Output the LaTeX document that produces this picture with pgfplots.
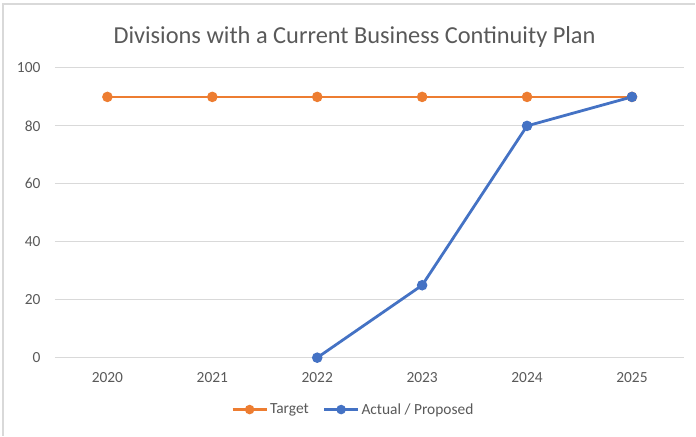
\documentclass[border=0pt]{standalone}
\usepackage{fontspec}
\setmainfont{Carlito}
\usepackage{pgfplots}
\pgfplotsset{compat=1.18}
\definecolor{xlorange}{HTML}{ED7D31}
\definecolor{xlblue}{HTML}{4472C4}
\definecolor{xlgrid}{HTML}{D9D9D9}
\definecolor{xltext}{HTML}{595959}

\begin{document}
\begin{tikzpicture}[x=1bp,y=1bp]
  \path (0,0) rectangle (696,436);
  \draw[xlgrid, line width=1.2bp] (3,0) -- (3,432) -- (696,432);
  \begin{axis}[
    at={(55bp,78bp)}, anchor=south west,
    scale only axis, width=630bp, height=290bp,
    xmin=-0.5, xmax=5.5, ymin=0, ymax=100,
    xtick={0,1,2,3,4,5},
    xticklabels={2020,2021,2022,2023,2024,2025},
    ytick={0,20,40,60,80,100},
    ymajorgrids, grid style={xlgrid, line width=1bp},
    axis line style={draw=none},
    major tick length=0pt,
    tick label style={font=\fontsize{15.5}{18}\selectfont, text=xltext},
    xticklabel style={yshift=-11bp},
    yticklabel style={xshift=-11bp},
    /pgf/number format/assume math mode=true,
    title={Divisions with a Current Business Continuity Plan},
    title style={at={(rel axis cs:0.476,1)}, anchor=center, yshift=25bp,
      font=\fontsize{24.5}{28}\selectfont, text=xltext},
    legend columns=2,
    legend style={at={(0.474,-0.179)}, anchor=center, draw=none,
      font=\fontsize{15.5}{18}\selectfont, text=xltext,
      /tikz/every even column/.append style={column sep=12bp}},
    legend image code/.code={
      \draw[#1, mark=none] (0bp,0bp) -- (34bp,0bp);
      \fill[#1] (17bp,0bp) circle (3.3bp);},
    clip=false,
  ]
  \addplot[xlorange, line width=2.8bp, mark=*, mark size=3.8bp,
    mark options={fill=xlorange, draw=xlorange}]
    coordinates {(0,90) (1,90) (2,90) (3,90) (4,90) (5,90)};
  \addlegendentry{Target}
  \addplot[xlblue, line width=2.8bp, mark=*, mark size=3.8bp,
    mark options={fill=xlblue, draw=xlblue}]
    coordinates {(2,0) (3,25) (4,80) (5,90)};
  \addlegendentry{Actual / Proposed}
  \end{axis}
\end{tikzpicture}
\end{document}
